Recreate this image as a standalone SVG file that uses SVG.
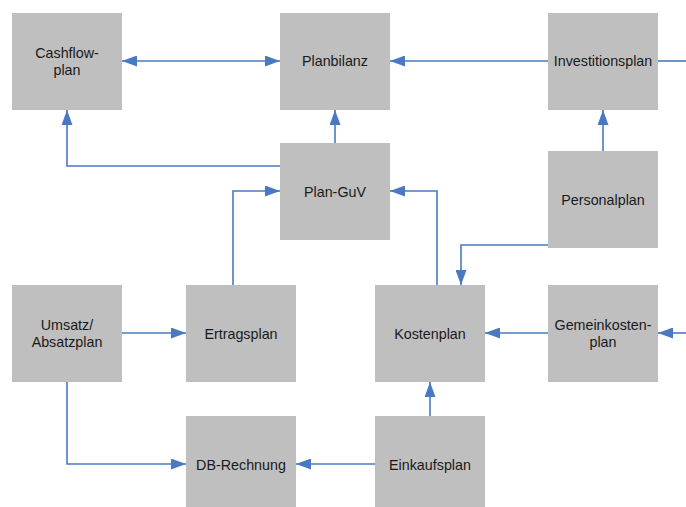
<svg xmlns="http://www.w3.org/2000/svg" width="686" height="507" viewBox="0 0 686 507">
<style>
.box{fill:#BFBFBF}
.t{font-family:"Liberation Sans",Arial,sans-serif;font-size:14.3px;fill:#1a1a1a;text-anchor:middle}
.c{fill:none;stroke:#4A78C2;stroke-width:1.6}
</style>
<defs>
<marker id="ah" markerWidth="15" markerHeight="11" refX="15" refY="5.5" orient="auto-start-reverse" markerUnits="userSpaceOnUse">
<path d="M0,0 L15,5.5 L0,11 Z" fill="#4A78C2"/>
</marker>
</defs>
<g id="connectors">
<path class="c" d="M122,61 H280" marker-start="url(#ah)" marker-end="url(#ah)"/>
<path class="c" d="M548,61 H390" marker-end="url(#ah)"/>
<path class="c" d="M658,61 H686"/>
<path class="c" d="M335,143 V110" marker-end="url(#ah)"/>
<path class="c" d="M280,166 H67 V110" marker-end="url(#ah)"/>
<path class="c" d="M233,285 V191 H280" marker-end="url(#ah)"/>
<path class="c" d="M437,285 V191 H390" marker-end="url(#ah)"/>
<path class="c" d="M548,245 H461 V285" marker-end="url(#ah)"/>
<path class="c" d="M603,151 V110" marker-end="url(#ah)"/>
<path class="c" d="M122,333 H186" marker-end="url(#ah)"/>
<path class="c" d="M67,382 V464 H186" marker-end="url(#ah)"/>
<path class="c" d="M375,464 H296" marker-end="url(#ah)"/>
<path class="c" d="M430,416 V382" marker-end="url(#ah)"/>
<path class="c" d="M548,333 H485" marker-end="url(#ah)"/>
<path class="c" d="M686,333 H658" marker-end="url(#ah)"/>
</g>
<g id="cashflow"><rect class="box" x="12" y="13" width="110" height="97"/><text class="t" x="67" y="58">Cashflow-</text><text class="t" x="67" y="75">plan</text></g>
<g id="planbilanz"><rect class="box" x="280" y="13" width="110" height="97"/><text class="t" x="335" y="66">Planbilanz</text></g>
<g id="investitionsplan"><rect class="box" x="548" y="13" width="110" height="97"/><text class="t" x="603" y="66">Investitionsplan</text></g>
<g id="planguv"><rect class="box" x="280" y="143" width="110" height="97"/><text class="t" x="335" y="196.5">Plan-GuV</text></g>
<g id="personalplan"><rect class="box" x="548" y="151" width="110" height="97"/><text class="t" x="603" y="204.5">Personalplan</text></g>
<g id="umsatz"><rect class="box" x="12" y="285" width="110" height="97"/><text class="t" x="67" y="329.5">Umsatz/</text><text class="t" x="67" y="346.5">Absatzplan</text></g>
<g id="ertragsplan"><rect class="box" x="186" y="285" width="110" height="97"/><text class="t" x="241" y="338.5">Ertragsplan</text></g>
<g id="kostenplan"><rect class="box" x="375" y="285" width="110" height="97"/><text class="t" x="430" y="338.5">Kostenplan</text></g>
<g id="gemeinkostenplan"><rect class="box" x="548" y="285" width="110" height="97"/><text class="t" x="603" y="329.5">Gemeinkosten-</text><text class="t" x="603" y="346.5">plan</text></g>
<g id="dbrechnung"><rect class="box" x="186" y="416" width="110" height="97"/><text class="t" x="241" y="469.5">DB-Rechnung</text></g>
<g id="einkaufsplan"><rect class="box" x="375" y="416" width="110" height="97"/><text class="t" x="430" y="469.5">Einkaufsplan</text></g>
</svg>
